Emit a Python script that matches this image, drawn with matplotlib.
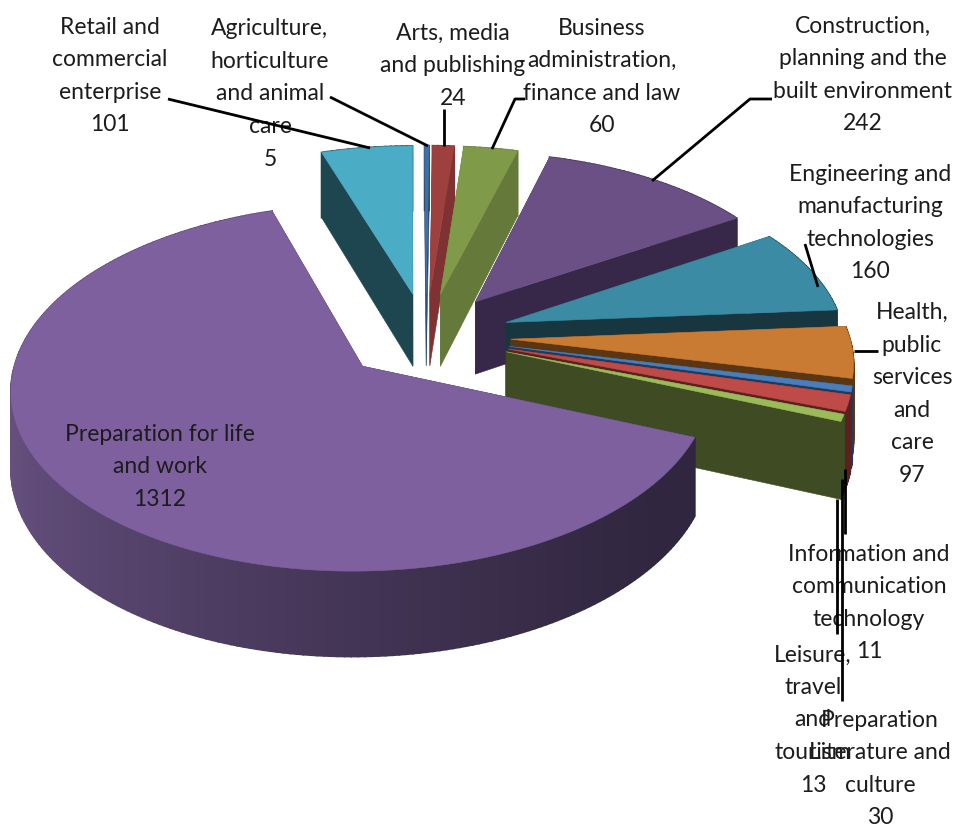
import numpy as np
import matplotlib
matplotlib.use('Agg')
import matplotlib.pyplot as plt

# slices, clockwise, starting at the Retail slice
labels = ['Retail and\ncommercial\nenterprise\n101',
          'Agriculture,\nhorticulture\nand animal\ncare\n5',
          'Arts, media\nand publishing\n24',
          'Business\nadministration,\nfinance and law\n60',
          'Construction,\nplanning and the\nbuilt environment\n242',
          'Engineering and\nmanufacturing\ntechnologies\n160',
          'Health,\npublic\nservices\nand\ncare\n97',
          'Information and\ncommunication\ntechnology\n11',
          'Preparation\nLiterature and\nculture\n30',
          'Leisure,\ntravel\nand\ntourism\n13',
          'Preparation for life\nand work\n1312']
values = [101, 5, 24, 60, 242, 160, 97, 11, 30, 13, 1312]

top_colors = ['#4BACC6', '#3F6FA8', '#9E403D', '#7F9A48', '#6A5084', '#3B8BA5',
              '#C97A33', '#4A7EBB', '#BE4B48', '#9BBB59', '#7F609E']
side_colors = ['#1D4650', '#2A4A70', '#7E3231', '#64793A', '#37284A', '#17363F',
               '#5A3612', '#1F3A5B', '#5C201E', '#3F4C23', '#30263F']

# label centres and leader lines in image pixels
label_xy = [(110, 76), (270, 94), (453, 66), (602, 77), (863, 75), (870, 223),
            (912, 394), (869, 603), (880, 769), (813, 720), (160, 467)]
leaders = [[(168, 100), (370, 149)],
           [(330, 98), (428, 147)],
           [(444, 110), (444, 147)],
           [(525, 100), (515, 100), (492, 150)],
           [(772, 100), (750, 100), (652, 182)],
           [(805, 245), (818, 288)],
           [(854, 352), (878, 352)],
           [(845, 470), (845, 535)],
           [(837, 500), (837, 635)],
           [(842, 480), (842, 702)]]

# pseudo 3d camera
cx, cy = 426, 337
rx, ry = 340, 174
persp = 0.114
persp_x = 0.003
depth = 74
explode = 0.25
start = -18


def project(u, v, z=0):
    s = 1 / (1 + persp * v + persp_x * u)
    return cx + rx * u * s, cy - ry * v * s + z * s


def blend(c1, c2, t):
    a = np.array(matplotlib.colors.to_rgb(c1))
    b = np.array(matplotlib.colors.to_rgb(c2))
    return a + (b - a) * t


fig = plt.figure(figsize=(9.56, 8.28), dpi=100)
ax = fig.add_axes([0, 0, 1, 1])
ax.set_xlim(0, 956)
ax.set_ylim(828, 0)
ax.axis('off')

spans = np.array(values) / sum(values) * 360
angle = start
for val, span, top, side in zip(values, spans, top_colors, side_colors):
    mid = np.radians(angle + span / 2)
    u0 = explode * np.sin(mid)
    v0 = explode * np.cos(mid)
    th = np.radians(np.linspace(angle, angle + span, max(int(span), 2) + 1))
    u = u0 + np.sin(th)
    v = v0 + np.cos(th)

    # the two cut faces
    for i in [0, -1]:
        p = [project(u0, v0), project(u[i], v[i]), project(u[i], v[i], depth), project(u0, v0, depth)]
        ax.fill(*zip(*p), color=side, lw=0.4)

    # rim, shaded along its length on the big slice
    xt, yt = project(u, v)
    xb, yb = project(u, v, depth)
    for i in range(len(th) - 1):
        c = side
        if span > 180:
            t = np.clip((xt[i] - 10) / 650, 0, 1)
            c = blend('#66507F', '#30263F', t ** 0.7)
        ax.fill([xt[i], xt[i + 1], xb[i + 1], xb[i]], [yt[i], yt[i + 1], yb[i + 1], yb[i]],
                color=c, lw=1.2)

    # top
    x0, y0 = project(u0, v0)
    ax.fill(np.r_[x0, xt], np.r_[y0, yt], color=top, lw=0.4)
    angle += span

for pts in leaders:
    ax.plot(*zip(*pts), color='black', lw=2, zorder=5, solid_capstyle='butt')

for lab, (x, y) in zip(labels, label_xy):
    ax.text(x, y, lab, ha='center', va='center', fontsize=16.5, family=['Lato', 'DejaVu Sans'],
            color='#1c1c1c', linespacing=1.68, zorder=4)

fig.savefig('out.png', dpi=100)
